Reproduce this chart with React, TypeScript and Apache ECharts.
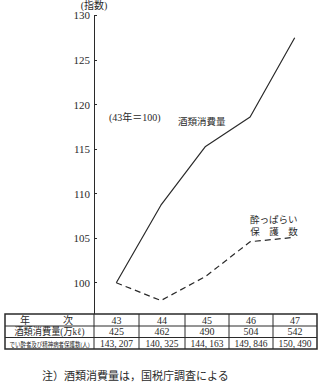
import React, { useEffect, useRef } from "react";
import * as echarts from "echarts";

const years = ["43", "44", "45", "46", "47"];
const consumptionIndex = [100, 108.7, 115.3, 118.6, 127.5];
const protectionIndex = [100, 98.0, 100.7, 104.6, 105.1];
const consumptionKl = ["425", "462", "490", "504", "542"];
const protectedPersons = ["143, 207", "140, 325", "144, 163", "149, 846", "150, 490"];
const yMin = 95;
const yMax = 130;
const yInterval = 5;

const SERIF = "Liberation Serif, DejaVu Serif, Noto Sans CJK JP, serif";
const INK = "#2a2a2a";

export default function App() {
  const ref = useRef<HTMLDivElement>(null);
  useEffect(() => {
    if (!ref.current) return;
    const chart = echarts.init(ref.current, undefined, { renderer: "svg" });

    // table geometry
    const colX = [5, 94, 139, 185, 229, 273, 317];
    const rowY = [314, 326, 337.5, 349];
    const tableEls: any[] = [];
    tableEls.push({
      type: "rect",
      z: 50,
      shape: { x: colX[0], y: rowY[0], width: colX[6] - colX[0], height: rowY[3] - rowY[0] },
      style: { fill: "#fff", stroke: INK, lineWidth: 1.5 },
    });
    for (let i = 1; i < colX.length - 1; i++) {
      tableEls.push({
        type: "line",
        z: 51,
        shape: { x1: colX[i], y1: rowY[0], x2: colX[i], y2: rowY[3] },
        style: { stroke: INK, lineWidth: 1 },
      });
    }
    for (let j = 1; j < rowY.length - 1; j++) {
      tableEls.push({
        type: "line",
        z: 51,
        shape: { x1: colX[0], y1: rowY[j], x2: colX[6], y2: rowY[j] },
        style: { stroke: INK, lineWidth: 1 },
      });
    }
    const cellText = (text: string, cx: number, cy: number, size = 10, sx = 1) => ({
      type: "text",
      z: 52,
      x: cx,
      y: cy,
      scaleX: sx,
      style: {
        text,
        fill: INK,
        fontFamily: SERIF,
        fontSize: size,
        align: "center",
        verticalAlign: "middle",
      },
    });
    const rowMid = (j: number) => (rowY[j] + rowY[j + 1]) / 2;
    tableEls.push(cellText("年", 25, rowMid(0), 10));
    tableEls.push(cellText("次", 68, rowMid(0), 10));
    tableEls.push(cellText("酒類消費量(万kℓ)", 49.5, rowMid(1), 10, 0.92));
    tableEls.push(cellText("でい酔者及び精神病者保護数(人)", 49.5, rowMid(2) + 0.5, 7, 0.78));
    years.forEach((y, i) => {
      const cx = (colX[i + 1] + colX[i + 2]) / 2;
      tableEls.push(cellText(y, cx, rowMid(0), 10));
      tableEls.push(cellText(consumptionKl[i], cx, rowMid(1), 10));
      tableEls.push(cellText(protectedPersons[i], cx, rowMid(2), 10, 0.95));
    });

    const label = (text: string, x: number, y: number, size: number, align = "left") => ({
      type: "text",
      z: 60,
      x,
      y,
      style: { text, fill: INK, fontFamily: SERIF, fontSize: size, align, verticalAlign: "middle" },
    });

    chart.setOption({
      animation: false,
      backgroundColor: "#fff",
      grid: { left: 94, right: 8, top: 15, height: 312.3, containLabel: false },
      xAxis: {
        type: "category",
        data: years,
        boundaryGap: true,
        axisLine: { show: false },
        axisTick: { show: false },
        axisLabel: { show: false },
        splitLine: { show: false },
      },
      yAxis: {
        type: "value",
        min: yMin,
        max: yMax,
        interval: yInterval,
        name: "(指数)",
        nameLocation: "end",
        nameGap: 5,
        nameTextStyle: { color: INK, fontFamily: SERIF, fontSize: 10, align: "center" },
        axisLine: { show: true, lineStyle: { color: INK, width: 1 } },
        axisTick: { show: true, inside: true, length: 3, lineStyle: { color: INK } },
        axisLabel: { color: INK, fontFamily: SERIF, fontSize: 11, margin: 4 },
        splitLine: { show: false },
      },
      series: [
        {
          name: "酒類消費量",
          type: "line",
          data: consumptionIndex,
          symbol: "none",
          lineStyle: { color: INK, width: 1.2, type: "solid" },
          z: 3,
        },
        {
          name: "酔っぱらい保護数",
          type: "line",
          data: protectionIndex,
          symbol: "none",
          lineStyle: { color: INK, width: 1.2, type: [6, 4] },
          z: 3,
        },
      ],
      graphic: [
        ...tableEls,
        label("(43年＝100)", 109, 117, 10),
        label("酒類消費量", 178, 122, 9.5),
        label("酔っぱらい", 250, 220, 9.5),
        label("保　護　数", 274, 232, 9.5, "center"),
        label("注）酒類消費量は，国税庁調査による", 42, 376, 11),
      ],
    });
    return () => chart.dispose();
  }, []);
  return (
    <div
      ref={ref}
      style={{ position: "fixed", left: 0, top: 0, width: 325, height: 384, background: "#fff" }}
    />
  );
}
